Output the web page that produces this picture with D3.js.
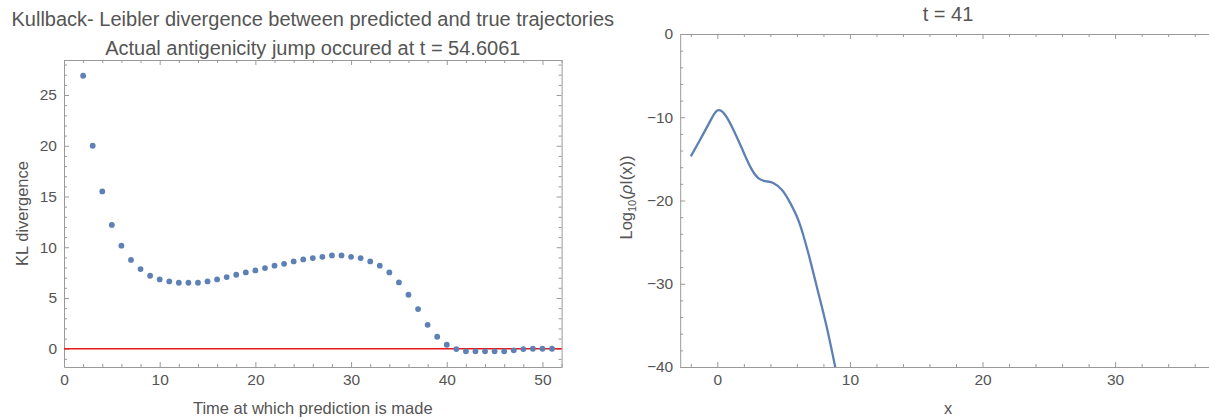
<!DOCTYPE html>
<html>
<head>
<meta charset="utf-8">
<script src="https://cdn.jsdelivr.net/npm/d3@7"></script>
<style>
  html, body { margin: 0; padding: 0; background: #fff; }
  svg { display: block; font-family: "Liberation Sans", Arial, sans-serif; }
  .axis path, .axis line { stroke: #9a9a9a; stroke-width: 1; }
  .axis text { fill: #555; font-size: 15.5px; font-family: "Liberation Sans", Arial, sans-serif; }
  .lbl { fill: #555; font-size: 16.5px; }
  .ttl { fill: #555; font-size: 20px; }
</style>
</head>
<body>
<script>
// KL divergence between predicted and true trajectories, by prediction time
const predTimes = [2, 3, 4, 5, 6, 7, 8, 9, 10, 11, 12, 13, 14, 15, 16, 17, 18, 19, 20,
  21, 22, 23, 24, 25, 26, 27, 28, 29, 30, 31, 32, 33, 34, 35, 36, 37, 38, 39, 40,
  41, 42, 43, 44, 45, 46, 47, 48, 49, 50, 51];
const klValues = [26.9, 20.0, 15.5, 12.2, 10.15, 8.75, 7.85, 7.19, 6.83, 6.63, 6.5, 6.5, 6.5, 6.63, 6.83, 7.06, 7.29, 7.52, 7.72,
  7.95, 8.18, 8.37, 8.6, 8.8, 8.93, 9.06, 9.19, 9.19, 9.06, 8.93, 8.6, 8.18, 7.52, 6.53, 5.32, 3.91, 2.36, 1.18, 0.39,
  -0.03, -0.26, -0.26, -0.26, -0.26, -0.26, -0.16, -0.03, 0.0, 0.0, 0.0];

// log10 density profile at t = 41
const rhoX   = [-2.0, -1.3, -0.55, 0.0, 0.58, 1.21, 1.84, 2.47, 3.09, 3.72, 4.22, 4.86, 5.36, 5.99, 6.49, 6.99, 7.62, 8.25, 8.88, 9.2];
const rhoLog = [-14.7, -12.7, -10.5, -9.2, -9.7, -11.5, -13.7, -15.9, -17.3, -17.7, -17.9, -18.7, -19.9, -21.9, -24.2, -27.1, -31.1, -35.2, -39.9, -42.4];

// tick values
const klXMajor = [0, 10, 20, 30, 40, 50];
const klYMajor = [0, 5, 10, 15, 20, 25];
const rhoXMajor = [0, 10, 20, 30];
const rhoYMajor = [0, -10, -20, -30, -40];

const W = 1209, H = 419;
const svg = d3.select("body").append("svg").attr("width", W).attr("height", H);

const fmtNum = d => (d < 0 ? "\u2212" + Math.abs(d) : String(d));

// framed plot box: labelled major ticks on bottom/left, unlabelled on top/right, minor ticks everywhere, all inward
function frame(g, x, y, xMajor, yMajor, xMinorStep, yMinorStep) {
  const [x0, x1] = x.range();
  const [y0, y1] = y.range();
  const xd = x.domain(), yd = y.domain();
  const notMajor = major => v => !major.some(m => Math.abs(m - v) < 1e-9);
  const xMinor = d3.range(Math.ceil(xd[0] / xMinorStep) * xMinorStep, xd[1] + 1e-9, xMinorStep).filter(notMajor(xMajor));
  const yMinor = d3.range(Math.ceil(Math.min(...yd) / yMinorStep) * yMinorStep, Math.max(...yd) + 1e-9, yMinorStep).filter(notMajor(yMajor));

  const axes = [
    [() => d3.axisBottom(x), `translate(0,${y0})`, xMajor, xMinor, true],
    [() => d3.axisTop(x), `translate(0,${y1})`, xMajor, xMinor, false],
    [() => d3.axisLeft(y), `translate(${x0},0)`, yMajor, yMinor, true],
    [() => d3.axisRight(y), `translate(${x1},0)`, yMajor, yMinor, false]
  ];
  axes.forEach(([mk, tr, major, minor, labelled]) => {
    g.append("g").attr("class", "axis").attr("transform", tr)
      .call(mk().tickValues(major).tickSize(-5).tickSizeOuter(0)
        .tickPadding(labelled ? 7 : 0)
        .tickFormat(labelled ? fmtNum : () => ""));
    g.append("g").attr("class", "axis").attr("transform", tr)
      .call(mk().tickValues(minor).tickSize(-3).tickSizeOuter(0).tickFormat(() => ""))
      .select(".domain").remove();
  });
}

// ---------- left panel: KL divergence ----------
const xL = d3.scaleLinear().domain([0, 52]).range([64, 561.6]);
const yL = d3.scaleLinear().domain([-1.8, 28.45]).range([367, 60]);
const gL = svg.append("g");

frame(gL, xL, yL, klXMajor, klYMajor, 2, 1);

gL.append("line")
  .attr("x1", xL.range()[0]).attr("x2", xL.range()[1])
  .attr("y1", yL(0)).attr("y2", yL(0))
  .attr("stroke", "#e8191b").attr("stroke-width", 1.6);

gL.selectAll("circle.kl").data(predTimes).join("circle")
  .attr("class", "kl")
  .attr("cx", d => xL(d))
  .attr("cy", (d, i) => yL(klValues[i]))
  .attr("r", 2.9)
  .attr("fill", "#5e81b5");

const cxL = (xL.range()[0] + xL.range()[1]) / 2;
gL.append("text").attr("class", "ttl").attr("text-anchor", "middle")
  .attr("x", cxL).attr("y", 26)
  .text("Kullback- Leibler divergence between predicted and true trajectories");
gL.append("text").attr("class", "ttl").attr("text-anchor", "middle")
  .attr("x", cxL).attr("y", 55)
  .text("Actual antigenicity jump occured at t = 54.6061");
gL.append("text").attr("class", "lbl").attr("text-anchor", "middle")
  .attr("x", cxL).attr("y", 414)
  .text("Time at which prediction is made");
gL.append("text").attr("class", "lbl").attr("text-anchor", "middle")
  .attr("transform", `translate(28,${(yL.range()[0] + yL.range()[1]) / 2}) rotate(-90)`)
  .text("KL divergence");

// ---------- right panel: log10 density ----------
const xR = d3.scaleLinear().domain([-2.8, 37.6]).range([680.2, 1215.9]);
const yR = d3.scaleLinear().domain([-40, 0]).range([367, 34]);
const gR = svg.append("g");

frame(gR, xR, yR, rhoXMajor, rhoYMajor, 2, 2);

gR.append("clipPath").attr("id", "rclip").append("rect")
  .attr("x", xR.range()[0]).attr("y", yR.range()[1])
  .attr("width", xR.range()[1] - xR.range()[0])
  .attr("height", yR.range()[0] - yR.range()[1]);

const line = d3.line()
  .x(d => xR(d))
  .y((d, i) => yR(rhoLog[i]))
  .curve(d3.curveNatural);

gR.append("path")
  .attr("clip-path", "url(#rclip)")
  .attr("d", line(rhoX))
  .attr("fill", "none")
  .attr("stroke", "#5e81b5")
  .attr("stroke-width", 2.3);

const cxR = (xR.range()[0] + xR.range()[1]) / 2;
gR.append("text").attr("class", "ttl").attr("text-anchor", "middle")
  .attr("x", cxR).attr("y", 21)
  .text("t = 41");
gR.append("text").attr("class", "lbl").attr("text-anchor", "middle")
  .attr("x", cxR).attr("y", 414)
  .text("x");
const yl = gR.append("text").attr("class", "lbl").attr("text-anchor", "middle")
  .attr("transform", `translate(632,${(yR.range()[0] + yR.range()[1]) / 2 - 3}) rotate(-90)`);
yl.append("tspan").text("Log");
yl.append("tspan").attr("font-size", "11px").attr("dy", 4).text("10");
yl.append("tspan").attr("dy", -4).text("(");
yl.append("tspan").attr("font-style", "italic").text("\u03c1");
yl.append("tspan").text("I(x))");
</script>
</body>
</html>
